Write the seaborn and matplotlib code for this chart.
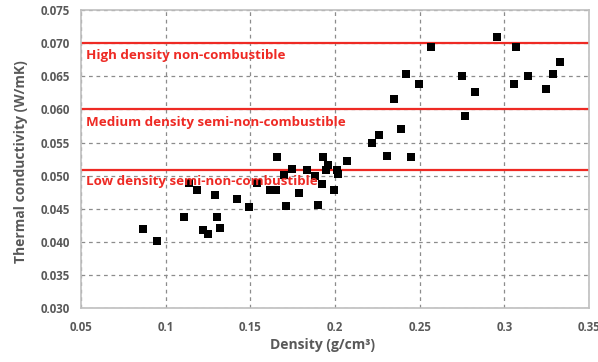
import numpy as np
import pandas as pd
import matplotlib
matplotlib.use("Agg")
import matplotlib.pyplot as plt
from matplotlib.ticker import MultipleLocator, FuncFormatter
import seaborn as sns

# данные
density = [0.0868, 0.0949, 0.1108, 0.1139, 0.1187, 0.1218, 0.1248, 0.1289,
           0.1301, 0.1320, 0.1421, 0.1490, 0.1537, 0.1617, 0.1649, 0.1659,
           0.1698, 0.1710, 0.1747, 0.1789, 0.1834, 0.1879, 0.1897, 0.1923,
           0.1927, 0.1948, 0.1960, 0.1994, 0.2009, 0.2017, 0.2068, 0.2218,
           0.2257, 0.2309, 0.2346, 0.2387, 0.2417, 0.2448, 0.2495, 0.2568,
           0.2749, 0.2767, 0.2826, 0.2958, 0.3058, 0.3070, 0.3137, 0.3245,
           0.3285, 0.3326]
conductivity = [0.0419, 0.0402, 0.0437, 0.0489, 0.0478, 0.0418, 0.0412, 0.0471,
                0.0438, 0.0421, 0.0465, 0.0452, 0.0489, 0.0478, 0.0479, 0.0528,
                0.0501, 0.0454, 0.0510, 0.0474, 0.0509, 0.0500, 0.0456, 0.0488,
                0.0528, 0.0509, 0.0516, 0.0478, 0.0509, 0.0503, 0.0522, 0.0549,
                0.0561, 0.0529, 0.0616, 0.0571, 0.0654, 0.0528, 0.0638, 0.0694,
                0.0650, 0.0590, 0.0627, 0.0710, 0.0639, 0.0694, 0.0650, 0.0631,
                0.0654, 0.0672]

limit_values = [0.070, 0.060, 0.0509]
limit_labels = ["High density non-combustible",
                "Medium density semi-non-combustible",
                "Low density semi-non-combustible"]
label_y = [0.0681, 0.0580, 0.0491]

sns.set_style("white")
plt.rcParams['font.family'] = ['Open Sans', 'DejaVu Sans']

df = pd.DataFrame({"density": density, "k": conductivity})

fig = plt.figure(figsize=(5.98, 3.62), dpi=100)
ax = fig.add_axes([0.1355, 0.149, 0.8495, 0.823])

sns.scatterplot(data=df, x="density", y="k", marker="s", s=40, color="black",
                edgecolor="black", linewidth=0, ax=ax, zorder=3)

red = "#ee2a24"
for v, lab, ty in zip(limit_values, limit_labels, label_y):
    ax.axhline(v, color=red, lw=1.6, zorder=2)
    ax.text(0.053, ty, lab, color=red, fontsize=9.6, fontweight="bold",
            va="center", ha="left", zorder=4)

ax.set_xlim(0.05, 0.35)
ax.set_ylim(0.030, 0.075)
ax.xaxis.set_major_locator(MultipleLocator(0.05))
ax.xaxis.set_minor_locator(MultipleLocator(0.01))
ax.yaxis.set_major_locator(MultipleLocator(0.005))
ax.yaxis.set_minor_locator(MultipleLocator(0.001))
ax.xaxis.set_major_formatter(FuncFormatter(lambda v, p: f"{v:.2f}".rstrip("0")))
ax.yaxis.set_major_formatter(FuncFormatter(lambda v, p: f"{v:.3f}"))

ax.grid(True, which="major", color="#8c8c8c", linestyle=(0, (3, 3)), lw=0.9)
ax.tick_params(which="major", length=0, labelsize=8.3, labelcolor="#595959")
ax.tick_params(axis="x", which="major", pad=9)
ax.tick_params(axis="y", which="major", pad=8)
ax.tick_params(which="minor", direction="in", length=3, color="#bfbfbf", width=0.8)
for t in ax.get_xticklabels() + ax.get_yticklabels():
    t.set_fontweight("bold")
for s in ax.spines.values():
    s.set_color("#bfbfbf")
    s.set_linewidth(1.2)

ax.set_xlabel("Density (g/cm³)", fontsize=10, fontweight="bold", color="#595959")
ax.set_ylabel("Thermal conductivity (W/mK)", fontsize=10, fontweight="bold", color="#595959")
ax.xaxis.set_label_coords(0.476, -0.1)
ax.yaxis.set_label_coords(-0.105, 0.49)

fig.savefig("out.png", dpi=100)
